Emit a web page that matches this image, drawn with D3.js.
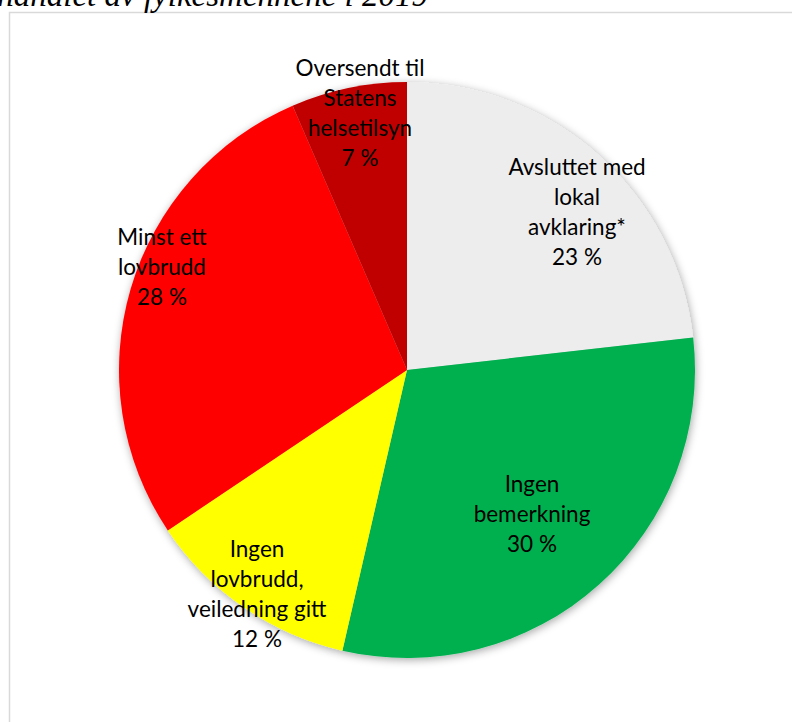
<!DOCTYPE html>
<html>
<head>
<meta charset="utf-8">
<script src="https://cdn.jsdelivr.net/npm/d3@7"></script>
<style>
  html, body { margin: 0; padding: 0; background: #fff; overflow: hidden; }
  svg { display: block; }
</style>
</head>
<body>
<svg id="chart" width="792" height="722"></svg>
<script>
// Slice data (clockwise from 12 o'clock)
const categories = [
    ["Avsluttet med", "lokal", "avklaring*"],
    ["Ingen", "bemerkning"],
    ["Ingen", "lovbrudd,", "veiledning gitt"],
    ["Minst ett", "lovbrudd"],
    ["Oversendt til", "Statens", "helsetilsyn"]
];
const values = [23.2, 30.4, 12.0, 27.9, 6.5];
const percentLabels = ["23 %", "30 %", "12 %", "28 %", "7 %"];
const colors = ["#ededed", "#00b050", "#ffff00", "#ff0000", "#c00000"];
const titleText = "handlet av fylkesmennene i 2019";

const svg = d3.select("#chart");
const cx = 407, cy = 370, radius = 288;

// Frame of the chart area
svg.append("rect")
    .attr("x", 9.5).attr("y", 12.5)
    .attr("width", 900).attr("height", 900)
    .attr("fill", "#fff")
    .attr("stroke", "#d9d9d9")
    .attr("stroke-width", 1.5);

// Cut-off title above the frame
svg.append("text")
    .attr("x", 428).attr("y", 6)
    .attr("text-anchor", "end")
    .attr("font-family", "'Liberation Serif', serif")
    .attr("font-style", "italic")
    .attr("font-size", 33)
    .attr("fill", "#000")
    .text(titleText);

// Soft shadow round the pie
const defs = svg.append("defs");
const filter = defs.append("filter")
    .attr("id", "shadow")
    .attr("x", "-20%").attr("y", "-20%")
    .attr("width", "140%").attr("height", "140%");
filter.append("feDropShadow")
    .attr("dx", 1).attr("dy", 2)
    .attr("stdDeviation", 4)
    .attr("flood-color", "#000")
    .attr("flood-opacity", 0.35);

const pie = d3.pie().sort(null).value(d => d);
const arcs = pie(values);
const arc = d3.arc().innerRadius(0).outerRadius(radius);

const g = svg.append("g").attr("transform", `translate(${cx},${cy})`);

g.append("g")
    .attr("filter", "url(#shadow)")
    .selectAll("path")
    .data(arcs)
    .enter().append("path")
    .attr("d", arc)
    .attr("fill", (d, i) => colors[i]);

// Label anchor points (centre of each label block, relative to pie centre)
const labelPos = [
    [170, -159],
    [125, 143],
    [-150, 223],
    [-245, -104],
    [-47, -258]
];
const lineHeight = 29.7;

const labels = g.append("g")
    .attr("font-family", "Lato, 'Noto Sans', sans-serif")
    .attr("font-size", 22.5)
    .attr("fill", "#000")
    .attr("text-anchor", "middle");

arcs.forEach((d, i) => {
    const lines = categories[i].concat([percentLabels[i]]);
    const [lx, ly] = labelPos[i];
    const top = ly - (lines.length - 1) * lineHeight / 2;
    const t = labels.append("text")
        .attr("x", lx)
        .attr("y", top)
        .attr("dominant-baseline", "central");
    lines.forEach((line, j) => {
        t.append("tspan")
            .attr("x", lx)
            .attr("y", top + j * lineHeight)
            .text(line);
    });
});
</script>
</body>
</html>
